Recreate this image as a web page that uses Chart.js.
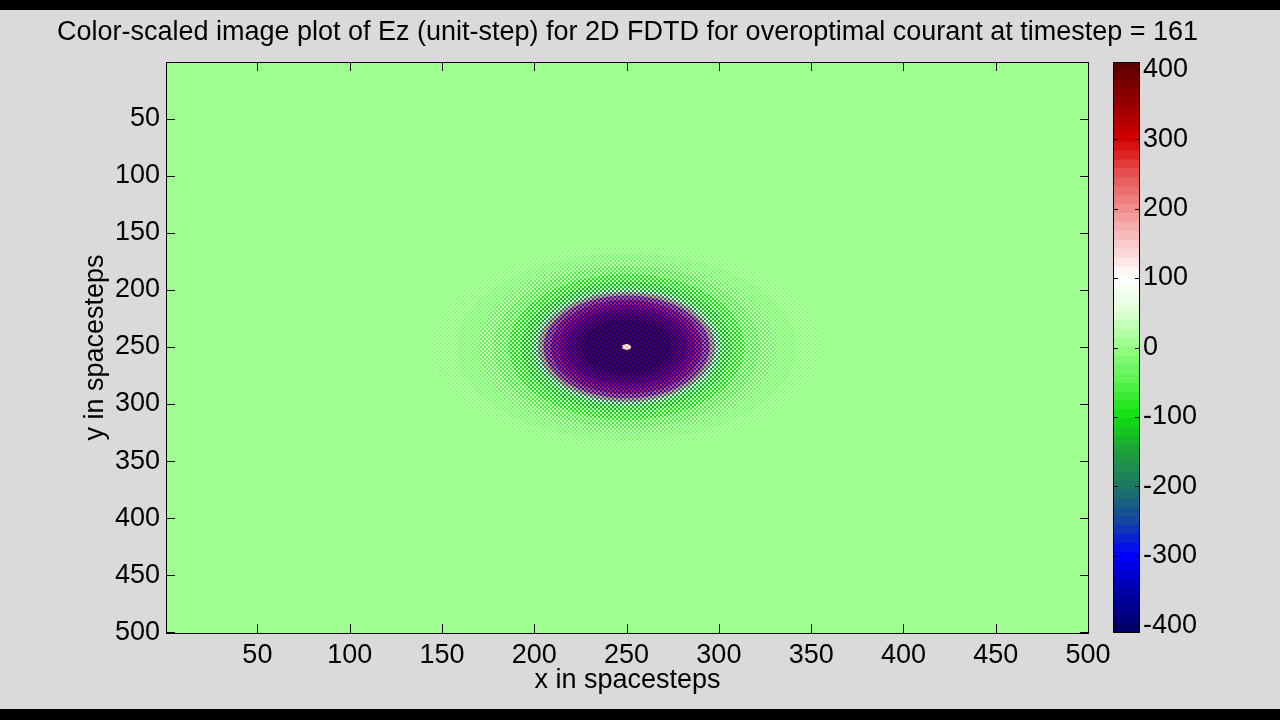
<!DOCTYPE html>
<html>
<head>
<meta charset="utf-8">
<script src="https://cdn.jsdelivr.net/npm/chart.js@4.4.1/dist/chart.umd.min.js"></script>
<style>
  html, body { margin: 0; padding: 0; background: #dadada; }
  #wrap { position: relative; width: 1280px; height: 720px; overflow: hidden; background: #dadada; }
  #main { position: absolute; left: 0; top: 0; }
  #cbar { position: absolute; left: 1100px; top: 0; }
  .band { position: absolute; left: 0; width: 1280px; background: #000; }
</style>
</head>
<body>
<div id="wrap">
  <canvas id="main" width="1280" height="720"></canvas>
  <canvas id="cbar" width="180" height="720"></canvas>
  <div class="band" style="top:0;height:10px"></div>
  <div class="band" style="top:709px;height:11px"></div>
</div>
<script>
const titleText = 'Color-scaled image plot of Ez (unit-step) for 2D FDTD for overoptimal courant at timestep = 161';
const xTicks = [50, 100, 150, 200, 250, 300, 350, 400, 450, 500];
const yTicks = [50, 100, 150, 200, 250, 300, 350, 400, 450, 500];
const cbTicks = [-400, -300, -200, -100, 0, 100, 200, 300, 400];
const gridSize = 500;
const sourceX = 250, sourceY = 250;
const cLim = 411;

// Ez envelope, outer ring -> inner ring (radii in spacesteps)
// the field flips sign cell by cell, so each ring has a "high" and a "low" parity value
const ringRadiusX = [105, 92, 80, 72, 64, 57, 51, 48, 45, 41, 37, 33, 28, 24, 2.5];
const ringRadiusY = [ 88, 82, 76, 71, 64, 57, 51, 48, 45, 41, 37, 33, 28, 24, 2.5];
const ringHigh    = [ 15, 25, 30, 30, 30, 25, 40, 190, 250, 290, 320, 350, 380, 400, 170];
const ringLow     = [ -5, -15, -30, -55, -95, -140, -180, -215, -280, -295, -305, -320, -330, -340, 60];

// colormap (value -> rgb), as seen on the colorbar
const cmapValues = [-411, -350, -300, -250, -200, -150, -100, -50, 0, 50, 100, 150, 200, 250, 300, 350, 411];
const cmapColors = [
  [0,0,100],[0,0,170],[0,0,255],[20,70,160],[30,120,100],[30,160,60],[15,225,15],[90,240,80],
  [150,255,135],[225,255,215],[255,255,255],[250,200,200],[240,140,140],[230,80,80],[210,0,0],[150,0,0],[90,0,0]
];
const cmapLevels = 64;

function cmap(v) {
  let lvl = Math.floor((v + cLim) / (2 * cLim) * cmapLevels);
  lvl = Math.max(0, Math.min(cmapLevels - 1, lvl));
  const q = -cLim + (lvl + 0.5) * (2 * cLim / cmapLevels);
  let i = 0;
  while (i < cmapValues.length - 2 && q > cmapValues[i + 1]) i++;
  const t = (q - cmapValues[i]) / (cmapValues[i + 1] - cmapValues[i]);
  const a = cmapColors[i], b = cmapColors[i + 1];
  const c = a.map((av, k) => Math.round(av + (b[k] - av) * t));
  return 'rgb(' + c.join(',') + ')';
}

const mainCanvas = document.getElementById('main');
const mainCtx = mainCanvas.getContext('2d');

function checker(hi, lo) {
  const c = document.createElement('canvas');
  c.width = 4; c.height = 4;
  const g = c.getContext('2d');
  g.fillStyle = cmap(lo); g.fillRect(0, 0, 4, 4);
  g.fillStyle = cmap(hi); g.fillRect(0, 0, 2, 2); g.fillRect(2, 2, 2, 2);
  return mainCtx.createPattern(c, 'repeat');
}

function ringPoints(rx, ry) {
  const pts = [];
  for (let k = 0; k <= 90; k++) {
    const a = k / 90 * Math.PI * 2;
    pts.push({ x: sourceX + rx * Math.cos(a), y: sourceY + ry * Math.sin(a) });
  }
  return pts;
}

const ringSets = ringRadiusX.map((rx, i) => ({
  data: ringPoints(rx, ringRadiusY[i]),
  showLine: true,
  fill: 'shape',
  backgroundColor: checker(ringHigh[i], ringLow[i]),
  borderColor: 'rgba(0,0,0,0)',
  borderWidth: 0,
  pointRadius: 0,
  tension: 0,
  order: ringRadiusX.length - i
}));

Chart.defaults.font.family = '"Liberation Sans", Arial, sans-serif';
Chart.defaults.color = '#000';

const font = { size: 27 };

// field background, box, inward ticks, title
const frame = {
  id: 'frame',
  beforeDatasetsDraw(chart) {
    const { ctx, chartArea: a } = chart;
    ctx.save();
    ctx.fillStyle = cmap(0);
    ctx.fillRect(a.left, a.top, a.right - a.left, a.bottom - a.top);
    ctx.restore();
  },
  afterDraw(chart) {
    const { ctx, chartArea: a, scales } = chart;
    ctx.save();
    ctx.strokeStyle = '#000';
    ctx.lineWidth = 1;
    ctx.strokeRect(a.left + 0.5, a.top + 0.5, a.right - a.left - 1, a.bottom - a.top);
    ctx.beginPath();
    xTicks.forEach(v => {
      const x = Math.round(scales.x.getPixelForValue(v)) + 0.5;
      ctx.moveTo(x, a.bottom); ctx.lineTo(x, a.bottom - 9);
      ctx.moveTo(x, a.top); ctx.lineTo(x, a.top + 9);
    });
    yTicks.forEach(v => {
      const y = Math.round(scales.y.getPixelForValue(v)) + 0.5;
      ctx.moveTo(a.left, y); ctx.lineTo(a.left + 9, y);
      ctx.moveTo(a.right, y); ctx.lineTo(a.right - 9, y);
    });
    ctx.stroke();
    ctx.fillStyle = '#000';
    ctx.font = '27px "Liberation Sans", Arial, sans-serif';
    ctx.textAlign = 'center';
    ctx.textBaseline = 'middle';
    ctx.fillText(titleText, (a.left + a.right) / 2, 33);
    ctx.restore();
  }
};

new Chart(mainCtx, {
  type: 'scatter',
  data: { datasets: ringSets },
  options: {
    responsive: false,
    animation: false,
    devicePixelRatio: 1,
    layout: { padding: { left: 0, right: 191, top: 62, bottom: 0 } },
    plugins: { legend: { display: false }, tooltip: { enabled: false } },
    scales: {
      x: {
        type: 'linear', min: 0.5, max: gridSize + 0.5,
        grid: { display: false, drawTicks: false },
        border: { display: false },
        afterBuildTicks: s => { s.ticks = xTicks.map(v => ({ value: v })); },
        afterFit: s => { s.height = 87; },
        ticks: { font, padding: 6, maxRotation: 0, autoSkip: false },
        title: { display: true, text: 'x in spacesteps', font, padding: { top: 0, bottom: 23 } }
      },
      y: {
        type: 'linear', min: 0.5, max: gridSize + 0.5, reverse: true,
        grid: { display: false, drawTicks: false },
        border: { display: false },
        afterBuildTicks: s => { s.ticks = yTicks.map(v => ({ value: v })); },
        afterFit: s => { s.width = 166; },
        ticks: { font, padding: 6, autoSkip: false },
        title: { display: true, text: 'y in spacesteps', font, padding: { top: 79, bottom: 0 } }
      }
    }
  },
  plugins: [frame]
});

// colorbar
const cbStep = 2 * cLim / cmapLevels;
const cbSets = [];
for (let l = 0; l < cmapLevels; l++) {
  const lo = -cLim + l * cbStep;
  cbSets.push({
    data: [[lo, lo + cbStep + 0.5]],
    backgroundColor: cmap(lo + cbStep / 2),
    borderWidth: 0,
    barPercentage: 1,
    categoryPercentage: 1,
    grouped: false
  });
}

const cbFrame = {
  id: 'cbFrame',
  afterDraw(chart) {
    const { ctx, chartArea: a, scales } = chart;
    ctx.save();
    ctx.strokeStyle = '#000';
    ctx.lineWidth = 1;
    ctx.strokeRect(a.left + 0.5, a.top + 0.5, a.right - a.left - 1, a.bottom - a.top - 1);
    ctx.beginPath();
    cbTicks.forEach(v => {
      const y = Math.round(scales.y.getPixelForValue(v)) + 0.5;
      ctx.moveTo(a.left, y); ctx.lineTo(a.left + 5, y);
      ctx.moveTo(a.right, y); ctx.lineTo(a.right - 5, y);
    });
    ctx.stroke();
    ctx.restore();
  }
};

new Chart(document.getElementById('cbar'), {
  type: 'bar',
  data: { labels: [''], datasets: cbSets },
  options: {
    responsive: false,
    animation: false,
    devicePixelRatio: 1,
    layout: { padding: { left: 13, right: 0, top: 62, bottom: 87 } },
    plugins: { legend: { display: false }, tooltip: { enabled: false } },
    scales: {
      x: { display: false },
      y: {
        position: 'right', min: -cLim, max: cLim,
        grid: { display: false, drawTicks: false },
        border: { display: false },
        afterBuildTicks: s => { s.ticks = cbTicks.map(v => ({ value: v })); },
        afterFit: s => { s.width = 140; },
        ticks: { font, padding: 3, autoSkip: false }
      }
    }
  },
  plugins: [cbFrame]
});
</script>
</body>
</html>
